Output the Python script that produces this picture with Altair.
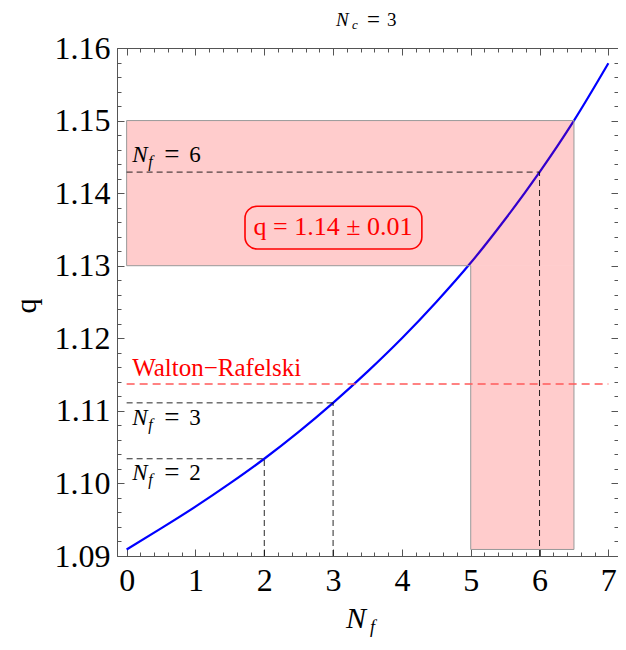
import altair as alt
import pandas as pd

# ---- data ----
nf_vals = [0, 0.5, 1, 1.5, 2, 2.5, 3, 3.5, 4, 4.5, 5, 5.5, 6, 6.5, 7]
q_vals = [1.0909, 1.0938, 1.0968, 1.1000, 1.1034, 1.1071, 1.1111, 1.1154,
          1.1200, 1.1250, 1.1304, 1.1364, 1.1429, 1.1500, 1.1579]

band_x = [0, 5]
band_x2 = [6.5, 6.5]
band_y = [1.13, 1.0909]
band_y2 = [1.15, 1.13]

outline_x = [0, 0, 6.5, 6.5, 5, 5, 0]
outline_y = [1.13, 1.15, 1.15, 1.0909, 1.0909, 1.13, 1.13]

guide_nf = [2, 3, 6]
guide_q = [1.1034, 1.1111, 1.1429]
guide_digit = ["2", "3", "6"]
guide_label_y = [1.1005, 1.1080, 1.1443]
label_x0 = 0.08

wr_q = 1.1137
wr_x = [0, 7]
wr_label = "Walton\u2212Rafelski"
wr_label_y = 1.1148

box_x, box_x2 = 1.72, 4.29
box_y, box_y2 = 1.1323, 1.1382
box_text = "q = 1.14 \u00b1 0.01"
box_text_x, box_text_y = 3.0, 1.1343

x_major = [0, 1, 2, 3, 4, 5, 6, 7]
x_minor = [round(0.2 * i, 1) for i in range(36)]
y_major = [1.09, 1.10, 1.11, 1.12, 1.13, 1.14, 1.15, 1.16]
y_minor = [round(1.09 + 0.002 * i, 3) for i in range(36)]

# ---- tables ----
curve_df = pd.DataFrame({"Nf": nf_vals, "q": q_vals})
band_df = pd.DataFrame({"x": band_x, "x2": band_x2, "y": band_y, "y2": band_y2})
outline_df = pd.DataFrame({"x": outline_x, "y": outline_y, "o": list(range(len(outline_x)))})
guide_df = pd.DataFrame({"Nf": guide_nf, "q": guide_q, "x0": [0] * 3, "ybot": [1.09] * 3,
                         "digit": guide_digit, "ly": guide_label_y, "lx": [label_x0] * 3})
wr_df = pd.DataFrame({"x": wr_x, "q": [wr_q, wr_q]})
one = pd.DataFrame({"a": [0]})

FONT = "Liberation Serif"
FRAME = "#555555"
xs = alt.Scale(domain=[-0.14, 7.14], nice=False, zero=False)
ys = alt.Scale(domain=[1.09, 1.16], nice=False, zero=False)


def ax(orient, values, size, labels, fmt, pad=0):
    kw = dict(orient=orient, values=values, tickSize=alt.ExprRef(expr=str(-size)),
              labels=labels, domain=False, grid=False, title=None, tickColor=FRAME,
              tickWidth=1)
    if labels:
        kw.update(labelFont=FONT, labelFontSize=32, labelColor="black", format=fmt,
                  labelPadding=pad, labelFlush=False, labelOverlap=False, labelBound=False)
    return alt.Axis(**kw)


base = alt.Chart(curve_df)

curve = base.mark_line(color="#0000FF", strokeWidth=2.2, interpolate="monotone").encode(
    x=alt.X("Nf:Q", scale=xs, axis=ax("bottom", x_major, 7, True, "d", 16)),
    y=alt.Y("q:Q", scale=ys, axis=ax("left", y_major, 7, True, ".2f", 14)),
)
minor_a = base.mark_point(opacity=0).encode(
    x=alt.X("Nf:Q", scale=xs, axis=ax("bottom", x_minor, 4, False, "")),
    y=alt.Y("q:Q", scale=ys, axis=ax("left", y_minor, 4, False, "")),
)
minor_b = base.mark_point(opacity=0).encode(
    x=alt.X("Nf:Q", scale=xs, axis=ax("top", x_major, 7, False, "")),
    y=alt.Y("q:Q", scale=ys, axis=ax("right", y_major, 7, False, "")),
)
minor_c = base.mark_point(opacity=0).encode(
    x=alt.X("Nf:Q", scale=xs, axis=ax("top", x_minor, 4, False, "")),
    y=alt.Y("q:Q", scale=ys, axis=ax("right", y_minor, 4, False, "")),
)

band = alt.Chart(band_df).mark_rect(color="#FF0000", opacity=0.2).encode(
    x=alt.X("x:Q", scale=xs, axis=None), x2="x2",
    y=alt.Y("y:Q", scale=ys, axis=None), y2="y2",
)
outline = alt.Chart(outline_df).mark_line(color="#999999", strokeWidth=1).encode(
    x=alt.X("x:Q", scale=xs, axis=None),
    y=alt.Y("y:Q", scale=ys, axis=None),
    order="o:Q",
)

gh = alt.Chart(guide_df).mark_rule(color="black", strokeWidth=1, strokeDash=[6, 4], opacity=0.85).encode(
    x=alt.X("x0:Q", scale=xs, axis=None), x2="Nf",
    y=alt.Y("q:Q", scale=ys, axis=None),
)
gv = alt.Chart(guide_df).mark_rule(color="black", strokeWidth=1, strokeDash=[6, 4], opacity=0.85).encode(
    x=alt.X("Nf:Q", scale=xs, axis=None),
    y=alt.Y("ybot:Q", scale=ys, axis=None), y2="q",
)
wr_line = alt.Chart(wr_df).mark_line(color="#FF5A5A", strokeWidth=1.5, strokeDash=[8, 5]).encode(
    x=alt.X("x:Q", scale=xs, axis=None),
    y=alt.Y("q:Q", scale=ys, axis=None),
)

box_df = pd.DataFrame({"x": [box_x], "x2": [box_x2], "y": [box_y], "y2": [box_y2],
                       "tx": [box_text_x], "ty": [box_text_y], "t": [box_text]})
box = alt.Chart(box_df).mark_rect(filled=False, stroke="#FF0000", strokeWidth=1.6, cornerRadius=12).encode(
    x=alt.X("x:Q", scale=xs, axis=None), x2="x2",
    y=alt.Y("y:Q", scale=ys, axis=None), y2="y2",
)
box_t = alt.Chart(box_df).mark_text(font=FONT, fontSize=26, color="#FF0000", align="center",
                                     baseline="alphabetic").encode(
    x=alt.X("tx:Q", scale=xs, axis=None), y=alt.Y("ty:Q", scale=ys, axis=None), text="t:N",
)

wr_t_df = pd.DataFrame({"x": [label_x0], "y": [wr_label_y], "t": [wr_label]})
wr_t = alt.Chart(wr_t_df).mark_text(font=FONT, fontSize=25, color="#FF0000", align="left",
                                    baseline="alphabetic").encode(
    x=alt.X("x:Q", scale=xs, axis=None), y=alt.Y("y:Q", scale=ys, axis=None), text="t:N",
)


def glabel(text_enc, size, dx, dy, italic):
    kw = dict(font=FONT, fontSize=size, color="black", align="left", baseline="alphabetic", dx=dx, dy=dy)
    if italic:
        kw["fontStyle"] = "italic"
    return alt.Chart(guide_df).mark_text(**kw).encode(
        x=alt.X("lx:Q", scale=xs, axis=None), y=alt.Y("ly:Q", scale=ys, axis=None), text=text_enc,
    )


lab_N = glabel(alt.value("N"), 23, 0, 0, True)
lab_f = glabel(alt.value("f"), 16, 16, 5, True)
lab_eq = glabel(alt.value("="), 27, 32, 1, False)
lab_d = glabel("digit:N", 23, 57, 0, False)


def ptext(t, x, y, size, italic=False, angle=0, align="left", baseline="alphabetic", dy=0):
    kw = dict(font=FONT, fontSize=size, color="black", align=align, baseline=baseline)
    if italic:
        kw["fontStyle"] = "italic"
    if angle:
        kw["angle"] = angle
    if dy:
        kw["dy"] = dy
    return alt.Chart(one).mark_text(**kw).encode(x=alt.value(x), y=alt.value(y), text=alt.value(t))


title_parts = [
    ptext("N", 219, -22, 19, True),
    ptext("c", 235, -19, 13, True),
    ptext("=", 250, -22, 23, dy=1),
    ptext("3", 270, -22, 19),
]
xtitle = [ptext("N", 229, 580, 30, True), ptext("f", 253, 585, 18, True)]
ytitle = [ptext("q", -90, 258, 30, angle=270, align="center", baseline="middle")]

chart = alt.layer(
    curve, minor_a, minor_b, minor_c, band, outline, gh, gv, wr_line, box, box_t, wr_t,
    lab_N, lab_f, lab_eq, lab_d, *title_parts, *xtitle, *ytitle,
).resolve_axis(x="independent", y="independent").properties(
    width=501, height=508,
    autosize=alt.AutoSizeParams(type="none"),
    padding={"left": 109, "top": 40, "right": 0, "bottom": 82},
).configure_view(stroke=FRAME, strokeWidth=1)

chart.save("out.html", embed_options={"renderer": "svg", "actions": False})
